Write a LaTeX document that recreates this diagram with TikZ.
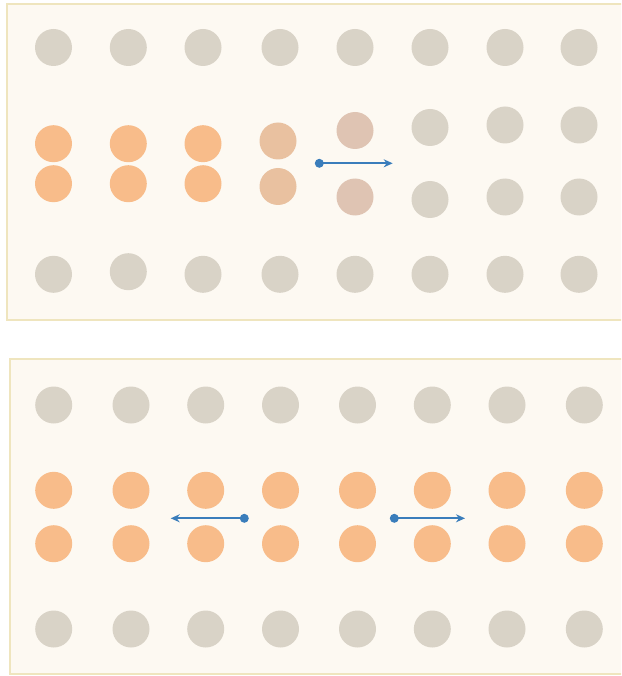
\documentclass[tikz,border=0pt]{standalone}
\usetikzlibrary{arrows.meta}
\definecolor{panelfill}{HTML}{FDF9F2}
\definecolor{panelline}{HTML}{EFE5BE}
\definecolor{grayb}{HTML}{D9D3C7}
\definecolor{orangeb}{HTML}{F8BC8A}
\definecolor{lorange}{HTML}{E9C1A0}
\definecolor{pinkb}{HTML}{DFC4B3}
\definecolor{arrowblue}{HTML}{3A7DBB}
\begin{document}
\begin{tikzpicture}[x=1pt,y=-1pt,
  panel/.style={draw=panelline,fill=panelfill,line width=2pt},
  ball/.style={circle,minimum size=37pt,inner sep=0pt,draw=none},
  gb/.style={ball,fill=grayb},
  ob/.style={ball,fill=orangeb},
  lb/.style={ball,fill=lorange},
  pb/.style={ball,fill=pinkb},
  mover/.style={draw=arrowblue,line width=2pt,-{Stealth[length=9pt,width=8pt]}},
  dotmark/.style={fill=arrowblue}]
\useasboundingbox (0,0) rectangle (621,676);
\clip (0,0) rectangle (621,676);
\fill[white] (0,0) rectangle (621,676);
% panels
\draw[panel] (7,4) rectangle (640,320);
\draw[panel] (10,358.5) rectangle (640,674);
% top panel row 1
\foreach \x [count=\i] in {53.5,128.3,203,280,355,430,505,579}
  \node[gb] (ta\i) at (\x,47.5) {};
% top panel row 4
\foreach \x/\y [count=\i] in {53.5/274.3,128.3/271.7,203/274.3,280/274.3,355/274.3,430/274.3,505/274.3,579/274.3}
  \node[gb] (td\i) at (\x,\y) {};
% top panel middle rows
\foreach \x [count=\i] in {53.5,128.3,203} {
  \node[ob] (tb\i) at (\x,143.7) {};
  \node[ob] (tc\i) at (\x,183.7) {};
}
\node[lb] (tb4) at (278,141) {};
\node[lb] (tc4) at (278,186.5) {};
\node[pb] (tb5) at (355,130.5) {};
\node[pb] (tc5) at (355,197) {};
\node[gb] (tb6) at (430,127.5) {};
\node[gb] (tc6) at (430,199.5) {};
\node[gb] (tb7) at (505,125) {};
\node[gb] (tc7) at (505,197) {};
\node[gb] (tb8) at (579,125) {};
\node[gb] (tc8) at (579,197) {};
% top arrow
\coordinate (tstart) at (319.3,163.3);
\coordinate (tend) at (392.7,163.3);
\draw[mover] (tstart) -- (tend);
\fill[dotmark] (tstart) circle (4.5pt);
% bottom panel
\foreach \x [count=\i] in {53.7,131,205.7,280.5,357.5,432.3,507,584.3} {
  \node[gb] (ba\i) at (\x,405) {};
  \node[ob] (bb\i) at (\x,490.3) {};
  \node[ob] (bc\i) at (\x,543.7) {};
  \node[gb] (bd\i) at (\x,629) {};
}
% bottom arrows
\coordinate (lstart) at (244.3,518.3);
\coordinate (lend) at (170.7,518.3);
\coordinate (rstart) at (394.3,518.3);
\coordinate (rend) at (465,518.3);
\draw[mover] (lstart) -- (lend);
\draw[mover] (rstart) -- (rend);
\fill[dotmark] (lstart) circle (4.5pt);
\fill[dotmark] (rstart) circle (4.5pt);
\end{tikzpicture}
\end{document}
